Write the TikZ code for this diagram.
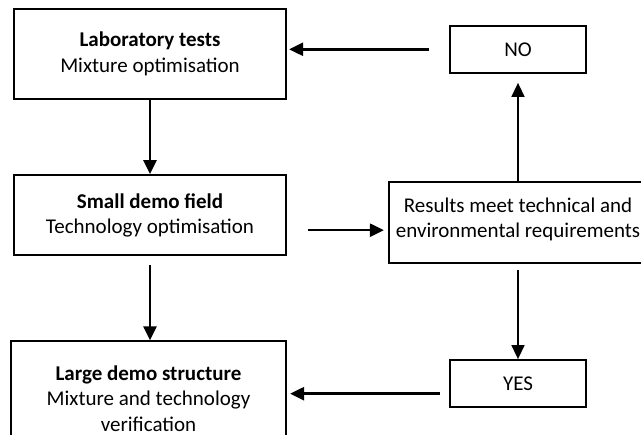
\documentclass[tikz,border=0pt]{standalone}
\usepackage{fontspec}
\setmainfont{Carlito}
\usepackage{tikz}
\usetikzlibrary{arrows.meta,positioning}

\begin{document}
\begin{tikzpicture}[
        x=1pt, y=-1pt,
        node distance=74pt,
        stage/.style={rectangle, draw, line width=2.2pt, align=center, inner sep=0pt, font=\fontsize{21}{25.5}\selectfont},
        answer/.style={rectangle, draw, line width=2.2pt, inner sep=0pt, minimum width=136pt, minimum height=47pt, font=\fontsize{21}{25.5}\selectfont},
        thickarr/.style={line width=2.5pt, -{Triangle[length=14pt,width=13pt]}},
        thinarr/.style={line width=1.5pt, -{Triangle[length=14pt,width=13pt]}}
    ]
        \useasboundingbox (0,0) rectangle (641,435);
        \clip (0,0) rectangle (641,435);

        % Laboratory tests
        \node [stage, minimum width=272pt, minimum height=90pt] (lab) at (150,54) {\textbf{Laboratory tests}\\Mixture optimisation};

        % Small demo field
        \node [stage, minimum width=272pt, minimum height=80pt, below=of lab] (small) {\textbf{Small demo field}\\Technology optimisation};

        % Large demo structure
        \node [stage, minimum width=275pt, minimum height=114pt, below=84pt of small, xshift=-1.5pt] (large) {\textbf{Large demo structure}\\Mixture and technology\\verification};

        % Decision
        \node [stage, minimum width=258pt, minimum height=81pt] (results) at (518,222.5) {Results meet technical and\\environmental requirements\\[-16pt]};

        % NO / YES
        \node [answer, above=107pt of results] (no) {NO};
        \node [answer, below=95pt of results] (yes) {YES};

        % Arrows
        \draw [thickarr] (lab.south) -- (lab.south |- small.north);
        \draw [thickarr, shorten <=9pt] (small.south) -- (small.south |- large.north);
        \draw [thickarr, shorten <=21pt, shorten >=4pt] ([yshift=-15pt]small.east) -- ([yshift=-15pt]small.east -| results.west);
        \draw [thinarr, shorten >=9pt] (results.north) -- (no.south);
        \draw [thinarr, shorten <=6pt] (results.south) -- (yes.north);
        \draw [thickarr, shorten <=20pt, shorten >=2pt] (no.west) -- (no.west -| lab.east);
        \draw [thickarr, shorten <=9pt, shorten >=3pt] ([yshift=-10pt]yes.west) -- ([yshift=-10pt]yes.west -| large.east);

    \end{tikzpicture}
\end{document}
